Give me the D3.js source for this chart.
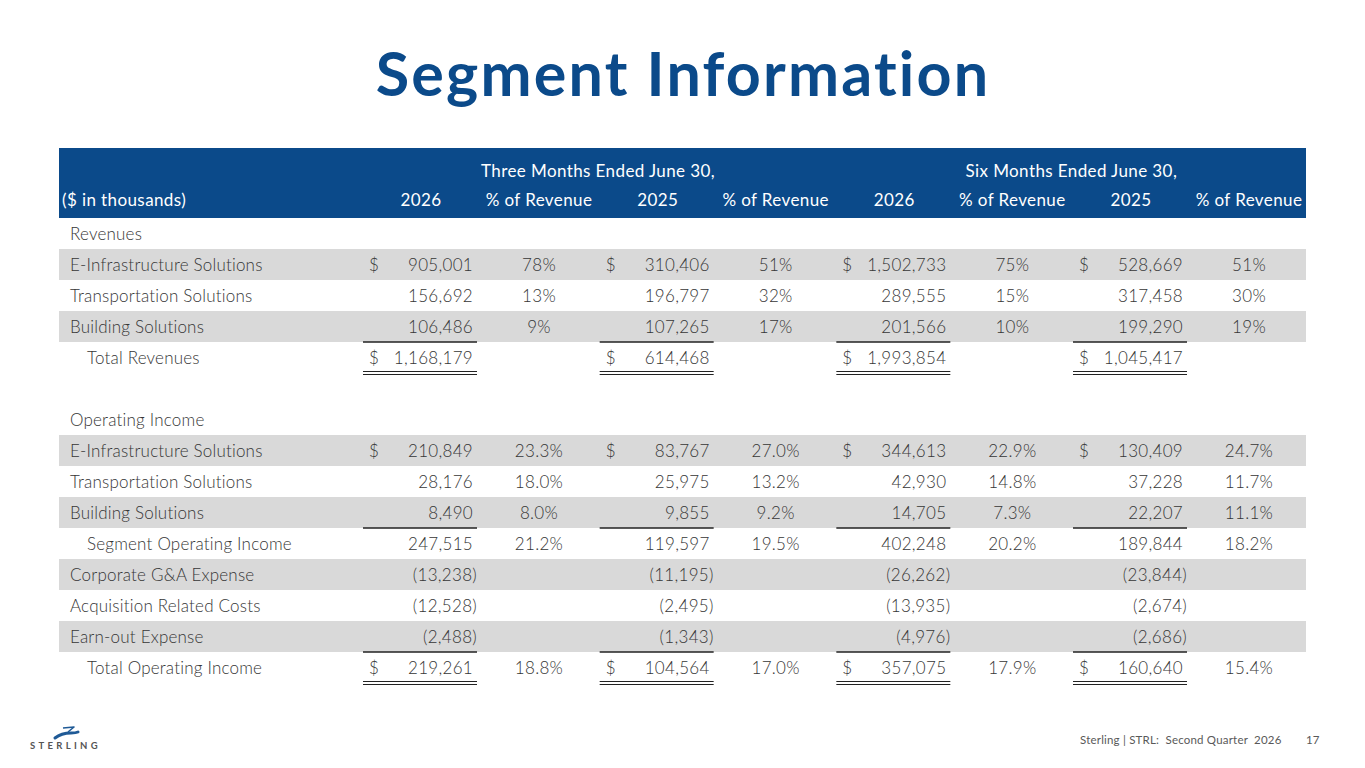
<!DOCTYPE html>
<html>
<head>
<meta charset="utf-8">
<script src="https://cdn.jsdelivr.net/npm/d3@7"></script>
<style>
  body { margin: 0; background: #fff; }
  text { font-family: Lato, "Noto Sans", sans-serif; font-variant-ligatures: none; white-space: pre; }
</style>
</head>
<body>
<script>
// table contents
var periods = ['Three Months Ended June 30,', 'Six Months Ended June 30,'];
var years = ['2026', '2025', '2026', '2025'];

var revenueRows = ['E-Infrastructure Solutions', 'Transportation Solutions', 'Building Solutions', 'Total Revenues'];
var revenueValues = [
  [905001, 156692, 106486, 1168179],
  [310406, 196797, 107265, 614468],
  [1502733, 289555, 201566, 1993854],
  [528669, 317458, 199290, 1045417]
];
var revenuePct = [
  [78, 13, 9, null],
  [51, 32, 17, null],
  [75, 15, 10, null],
  [51, 30, 19, null]
];

var incomeRows = ['E-Infrastructure Solutions', 'Transportation Solutions', 'Building Solutions',
  'Segment Operating Income', 'Corporate G&A Expense', 'Acquisition Related Costs',
  'Earn-out Expense', 'Total Operating Income'];
var incomeValues = [
  [210849, 28176, 8490, 247515, -13238, -12528, -2488, 219261],
  [83767, 25975, 9855, 119597, -11195, -2495, -1343, 104564],
  [344613, 42930, 14705, 402248, -26262, -13935, -4976, 357075],
  [130409, 37228, 22207, 189844, -23844, -2674, -2686, 160640]
];
var incomePct = [
  [23.3, 18.0, 8.0, 21.2, null, null, null, 18.8],
  [27.0, 13.2, 9.2, 19.5, null, null, null, 17.0],
  [22.9, 14.8, 7.3, 20.2, null, null, null, 17.9],
  [24.7, 11.7, 11.1, 18.2, null, null, null, 15.4]
];

var blue = '#0b4a8a';
var ink = '#363636';
var shade = '#d9d9d9';

var svg = d3.select('body').append('svg')
    .attr('width', 1365)
    .attr('height', 768);

// build the list of rows
var rows = [];
rows.push({label: 'Revenues'});
revenueRows.forEach(function(r, i) {
  var total = i === 3;
  rows.push({
    label: r, indent: total, shaded: i % 2 === 0 && !total,
    dollar: i === 0 || total, lineAbove: total, doubleBelow: total,
    vals: revenueValues.map(function(c) { return c[i]; }),
    pct: revenuePct.map(function(c) { return c[i]; }), dec: 0
  });
});
rows.push({label: ''});
rows.push({label: 'Operating Income'});
incomeRows.forEach(function(r, i) {
  var total = i === 3 || i === 7;
  rows.push({
    label: r, indent: total, shaded: i % 2 === 0 && !total,
    dollar: i === 0 || i === 7, lineAbove: total, doubleBelow: i === 7,
    vals: incomeValues.map(function(c) { return c[i]; }),
    pct: incomePct.map(function(c) { return c[i]; }), dec: 1
  });
});
// below the subtotal the stripes restart (Corporate, Earn-out)
rows.forEach(function(r, i) {
  if (i > 10) r.shaded = (i - 11) % 2 === 0 && i !== 14;
});

var left = 59, right = 1306;

var y = d3.scaleBand()
    .domain(d3.range(rows.length))
    .range([218, 218 + rows.length * 31]);

// right edge of each number column
var x = d3.scaleLinear()
    .domain([0, 3])
    .range([473, 1183]);

var fmt = d3.format(',');
function money(v) {
  return v < 0 ? '(' + fmt(-v) + ')' : fmt(v);
}

// title
svg.append('text')
    .attr('x', 683)
    .attr('y', 96)
    .attr('text-anchor', 'middle')
    .attr('font-size', 61)
    .attr('font-weight', 700)
    .attr('letter-spacing', 2.2)
    .attr('fill', blue)
    .text('Segment Information');

// header band
svg.append('rect')
    .attr('x', left)
    .attr('y', 148)
    .attr('width', right - left)
    .attr('height', 70)
    .attr('fill', blue);

var head = svg.append('g')
    .attr('fill', '#fff')
    .attr('font-size', 17)
    .attr('letter-spacing', 0.4);

head.selectAll('.period')
    .data(periods)
  .enter().append('text')
    .attr('x', function(d, i) { return x(i * 2) + 125; })
    .attr('y', 177)
    .attr('text-anchor', 'middle')
    .text(function(d) { return d; });

head.append('text')
    .attr('x', 62)
    .attr('y', 206)
    .text('($ in thousands)');

head.selectAll('.year')
    .data(years)
  .enter().append('text')
    .attr('x', function(d, i) { return x(i) - 52; })
    .attr('y', 206)
    .attr('text-anchor', 'middle')
    .text(function(d) { return d; });

head.selectAll('.pcthead')
    .data(years)
  .enter().append('text')
    .attr('x', function(d, i) { return x(i) + 66; })
    .attr('y', 206)
    .attr('text-anchor', 'middle')
    .text('% of Revenue');

// body rows
var row = svg.selectAll('.row')
    .data(rows)
  .enter().append('g')
    .attr('class', 'row')
    .attr('transform', function(d, i) { return 'translate(0,' + y(i) + ')'; });

row.filter(function(d) { return d.shaded; })
  .append('rect')
    .attr('x', left)
    .attr('width', right - left)
    .attr('height', y.bandwidth())
    .attr('fill', shade);

row.append('text')
    .attr('x', function(d) { return d.indent ? 87 : 70; })
    .attr('y', 22)
    .attr('font-size', 17)
    .attr('font-weight', 300)
    .attr('letter-spacing', 0.2)
    .attr('fill', ink)
    .text(function(d) { return d.label; });

var cells = row.filter(function(d) { return d.vals; })
  .selectAll('.cell')
    .data(function(d) {
      return d.vals.map(function(v, j) {
        return {v: v, p: d.pct[j], j: j, r: d};
      });
    })
  .enter().append('g')
    .attr('font-size', 17)
    .attr('font-weight', 300)
    .attr('letter-spacing', 0.3)
    .attr('fill', ink);

cells.append('text')
    .attr('x', function(d) { return x(d.j) + (d.v < 0 ? 4 : 0); })
    .attr('y', 22)
    .attr('text-anchor', 'end')
    .text(function(d) { return money(d.v); });

cells.filter(function(d) { return d.r.dollar; })
  .append('text')
    .attr('x', function(d) { return x(d.j) - 104; })
    .attr('y', 22)
    .text('$');

cells.filter(function(d) { return d.p != null; })
  .append('text')
    .attr('x', function(d) { return x(d.j) + 66; })
    .attr('y', 22)
    .attr('text-anchor', 'middle')
    .text(function(d) { return d.p.toFixed(d.r.dec) + '%'; });

// accounting rules
cells.filter(function(d) { return d.r.lineAbove; })
  .append('line')
    .attr('x1', function(d) { return x(d.j) - 110; })
    .attr('x2', function(d) { return x(d.j) + 4; })
    .attr('y1', 0)
    .attr('y2', 0)
    .attr('stroke', '#222')
    .attr('stroke-width', 1.5);

cells.filter(function(d) { return d.r.doubleBelow; })
  .each(function(d) {
    var g = d3.select(this);
    [29.5, 32.5].forEach(function(yy) {
      g.append('line')
          .attr('x1', x(d.j) - 110)
          .attr('x2', x(d.j) + 4)
          .attr('y1', yy)
          .attr('y2', yy)
          .attr('stroke', '#222')
          .attr('stroke-width', 1.2);
    });
  });

// footer
svg.append('text')
    .attr('x', 1080)
    .attr('y', 744)
    .attr('font-size', 11.5)
    .attr('letter-spacing', 0.2)
    .attr('fill', '#595959')
    .text('Sterling | STRL:  Second Quarter  2026');

svg.append('text')
    .attr('x', 1306)
    .attr('y', 744)
    .attr('font-size', 11.5)
    .attr('fill', '#595959')
    .text('17');

// logo swoosh
svg.append('path')
    .attr('d', 'M63,728 L74,727 L68,732')
    .attr('fill', 'none')
    .attr('stroke', '#1f5a96')
    .attr('stroke-width', 1.6)
    .attr('stroke-linejoin', 'round');

svg.append('path')
    .attr('d', 'M55,738 C60,734 66,733 71,733 C74,733 76,733 78,732')
    .attr('fill', 'none')
    .attr('stroke', '#1f5a96')
    .attr('stroke-width', 3)
    .attr('stroke-linecap', 'round');

svg.append('text')
    .attr('x', 30)
    .attr('y', 749)
    .attr('font-size', 9.5)
    .attr('font-weight', 700)
    .attr('letter-spacing', 3.3)
    .attr('fill', '#555')
    .text('STERLING');
</script>
</body>
</html>
